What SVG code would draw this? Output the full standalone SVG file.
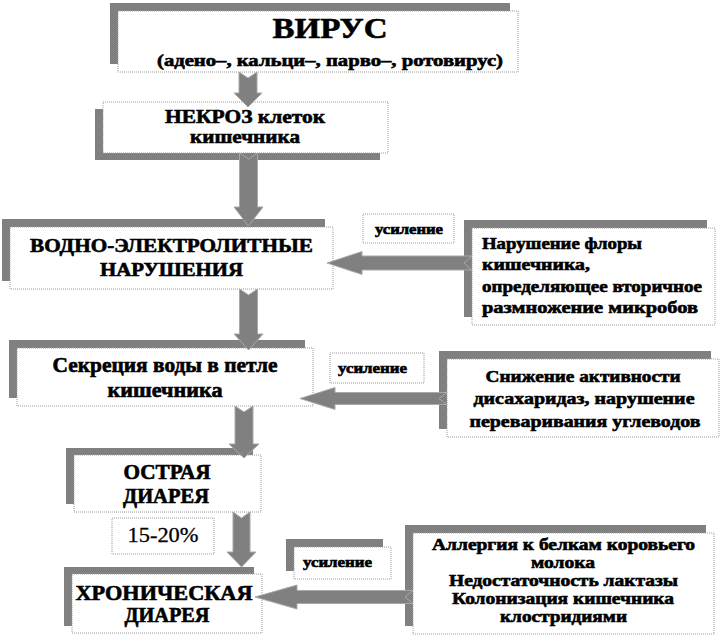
<svg xmlns="http://www.w3.org/2000/svg" width="722" height="637" viewBox="0 0 722 637" font-family="'Liberation Serif', 'DejaVu Serif', 'Times New Roman', serif">
<style>
.sh{fill:#808080}
.bx{fill:#fff;stroke:#9a9a9a;stroke-width:1;stroke-dasharray:1 1}
text{font-family:'Liberation Serif','DejaVu Serif','Times New Roman',serif;font-weight:bold;fill:#000;stroke:#000;stroke-width:0.6;text-anchor:middle}
.l{text-anchor:start}
.n{font-weight:normal;stroke-width:0.3}
.ar{fill:#808080;stroke:#a8a8a8;stroke-width:1}
</style>
<rect width="722" height="637" fill="#fff"/>
<g id="virus">
<rect class="sh" x="110" y="3" width="400" height="61"/>
<rect class="bx" x="118" y="11" width="400" height="61"/>
<text x="330" y="38" font-size="30" textLength="115" lengthAdjust="spacingAndGlyphs">ВИРУС</text>
<text x="330" y="66" font-size="17" textLength="346" lengthAdjust="spacingAndGlyphs">(адено–, кальци–, парво–, ротовирус)</text>
</g>
<g id="necrosis">
<rect class="sh" x="95" y="109" width="285" height="51"/>
<rect class="bx" x="103" y="102" width="285" height="51"/>
<text x="245" y="123" font-size="19" textLength="160" lengthAdjust="spacingAndGlyphs">НЕКРОЗ клеток</text>
<text x="245" y="143" font-size="19" textLength="110" lengthAdjust="spacingAndGlyphs">кишечника</text>
</g>
<g id="water">
<rect class="sh" x="2" y="219" width="323" height="62"/>
<rect class="bx" x="10" y="227" width="323" height="62"/>
<text x="171.5" y="252" font-size="19" textLength="283" lengthAdjust="spacingAndGlyphs">ВОДНО-ЭЛЕКТРОЛИТНЫЕ</text>
<text x="171.5" y="276" font-size="19" textLength="143" lengthAdjust="spacingAndGlyphs">НАРУШЕНИЯ</text>
</g>
<g id="flora">
<rect class="sh" x="464" y="220" width="243" height="97"/>
<rect class="bx" x="472" y="228" width="243" height="97"/>
<text class="l" x="482" y="249" font-size="17" textLength="160" lengthAdjust="spacingAndGlyphs">Нарушение флоры</text>
<text class="l" x="482" y="270" font-size="17" textLength="108" lengthAdjust="spacingAndGlyphs">кишечника,</text>
<text class="l" x="482" y="292" font-size="17" textLength="220" lengthAdjust="spacingAndGlyphs">определяющее вторичное</text>
<text class="l" x="482" y="313" font-size="17" textLength="216" lengthAdjust="spacingAndGlyphs">размножение микробов</text>
</g>
<g id="boost1">
<rect class="bx" x="363" y="214" width="91" height="29"/>
<text x="409" y="234" font-size="14" textLength="68" lengthAdjust="spacingAndGlyphs">усиление</text>
</g>
<g id="secretion">
<rect class="sh" x="9" y="340" width="296" height="58"/>
<rect class="bx" x="17" y="348" width="296" height="58"/>
<text x="165" y="372" font-size="20" textLength="225" lengthAdjust="spacingAndGlyphs">Секреция воды в петле</text>
<text x="165" y="397" font-size="20" textLength="115" lengthAdjust="spacingAndGlyphs">кишечника</text>
</g>
<g id="boost2">
<rect class="bx" x="330" y="353" width="94" height="30"/>
<text x="372.5" y="373" font-size="14" textLength="69" lengthAdjust="spacingAndGlyphs">усиление</text>
</g>
<g id="disacch">
<rect class="sh" x="439" y="351" width="272" height="78"/>
<rect class="bx" x="447" y="359" width="272" height="78"/>
<text x="583" y="382" font-size="17" textLength="195" lengthAdjust="spacingAndGlyphs">Снижение активности</text>
<text x="584" y="404" font-size="17" textLength="221" lengthAdjust="spacingAndGlyphs">дисахаридаз, нарушение</text>
<text x="585" y="427" font-size="17" textLength="231" lengthAdjust="spacingAndGlyphs">переваривания углеводов</text>
</g>
<g id="acute">
<rect class="sh" x="66" y="448" width="187" height="56"/>
<rect class="bx" x="74" y="455" width="187" height="57"/>
<text x="167" y="479" font-size="20" textLength="87" lengthAdjust="spacingAndGlyphs">ОСТРАЯ</text>
<text x="166" y="503" font-size="20" textLength="86" lengthAdjust="spacingAndGlyphs">ДИАРЕЯ</text>
</g>
<g id="percent">
<rect class="bx" x="112" y="518" width="102" height="36"/>
<text class="n" x="163" y="542" font-size="21" textLength="71" lengthAdjust="spacingAndGlyphs">15-20%</text>
</g>
<g id="chronic">
<rect class="sh" x="64" y="567" width="190" height="59"/>
<rect class="bx" x="72" y="574" width="190" height="59"/>
<text x="164" y="600" font-size="20" textLength="177" lengthAdjust="spacingAndGlyphs">ХРОНИЧЕСКАЯ</text>
<text x="167" y="622" font-size="20" textLength="85" lengthAdjust="spacingAndGlyphs">ДИАРЕЯ</text>
</g>
<g id="boost3">
<rect class="sh" x="286" y="539" width="97" height="32"/>
<rect class="bx" x="294" y="547" width="97" height="32"/>
<text x="337.5" y="567" font-size="14" textLength="69" lengthAdjust="spacingAndGlyphs">усиление</text>
</g>
<g id="allergy">
<rect class="sh" x="405" y="525" width="301" height="101"/>
<rect class="bx" x="413" y="533" width="301" height="101"/>
<text x="563.5" y="550" font-size="16" textLength="263" lengthAdjust="spacingAndGlyphs">Аллергия к белкам коровьего</text>
<text x="563" y="568" font-size="16" textLength="64" lengthAdjust="spacingAndGlyphs">молока</text>
<text x="563.5" y="586" font-size="16" textLength="229" lengthAdjust="spacingAndGlyphs">Недостаточность лактазы</text>
<text x="563" y="604" font-size="16" textLength="222" lengthAdjust="spacingAndGlyphs">Колонизация кишечника</text>
<text x="563.5" y="622" font-size="16" textLength="127" lengthAdjust="spacingAndGlyphs">клостридиями</text>
</g>
<g id="connectors">
<polygon class="ar" points="239,72 248,78 257,72 257,93 262,93 248,107 234,93 239,93"/>
<polygon class="ar" points="239.5,153 248.5,159 257.5,153 257.5,207 263,207 248.5,226 234,207 239.5,207"/>
<polygon class="ar" points="239.5,289 248.5,295 257.5,289 257.5,334 263,334 248.5,350 234,334 239.5,334"/>
<polygon class="ar" points="235,406 244,412 253,406 253,444 259,444 244,458 229,444 235,444"/>
<polygon class="ar" points="233,512 241.5,518 250,512 250,552 256,552 241.5,567 227,552 233,552"/>
<polygon class="ar" points="327,263 362,251.5 362,256 472,256 464,263 472,270 362,270 362,274.5"/>
<polygon class="ar" points="300,398.5 335,387.5 335,392.5 447,392.5 439,398.5 447,404.5 335,404.5 335,409.5"/>
<polygon class="ar" points="255,597 297,585 297,590.5 413,590.5 405,597 413,603.5 297,603.5 297,609"/>
</g>
</svg>
